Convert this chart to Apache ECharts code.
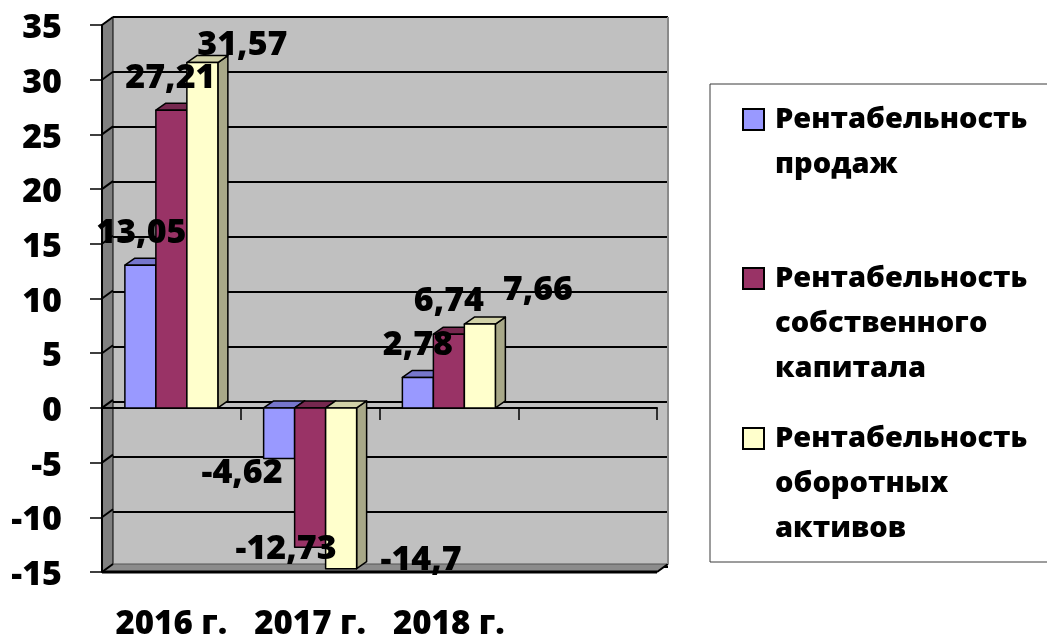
<!DOCTYPE html>
<html>
<head>
<meta charset="utf-8">
<script src="https://cdn.jsdelivr.net/npm/echarts@6.0.0/dist/echarts.min.js"></script>
<style>
html,body{margin:0;padding:0;background:#fff;}
#chart{width:1047px;height:641px;}
</style>
</head>
<body>
<div id="chart"></div>
<script>
// ---- data ----
const categories = ['2016 г.', '2017 г.', '2018 г.', ''];
const seriesNames = [
  'Рентабельность продаж',
  'Рентабельность собственного капитала',
  'Рентабельность оборотных активов'
];
const legendLabels = [
  'Рентабельность\nпродаж',
  'Рентабельность\nсобственного\nкапитала',
  'Рентабельность\nоборотных\nактивов'
];
const salesReturn = [13.05, -4.62, 2.78, null];
const equityReturn = [27.21, -12.73, 6.74, null];
const currentAssetsReturn = [31.57, -14.7, 7.66, null];
const yTicks = [-15, -10, -5, 0, 5, 10, 15, 20, 25, 30, 35];

// ---- styling / layout ----
const FONT = 'Open Sans';
const WEIGHT = 800;
const palette = [
  { front: '#9999ff', top: '#7676cc', side: '#6b6bb3' },
  { front: '#993366', top: '#76284f', side: '#6b2447' },
  { front: '#ffffcc', top: '#d2d2a8', side: '#a8a888' }
];
const BAR_FRAC = 0.2234;      // bar width as share of category band
const BAR_DEPTH = [10, -7];   // 3D depth of the bars
const WALL_DEPTH = [11, -8];  // 3D depth of the walls
// label placement relative to the bar end (Excel-like placement)
const labelShift = [
  [[1, -32], [-37, 15], [0, -32]],
  [[-1, -32], [-24, 2], [0, -33]],
  [[40, -17], [80, -8], [58, -34]]
];

const allValues = [salesReturn, equityReturn, currentAssetsReturn];
const yMin = yTicks[0], yMax = yTicks[yTicks.length - 1], yStep = yTicks[1] - yTicks[0];

function fmt(v) { return String(v).replace('.', ','); }

function barRenderer(si) {
  return function (params, api) {
    const cat = api.value(0), v = api.value(1);
    if (v == null || isNaN(v)) return;
    const band = api.size([1, 0])[0];
    const w = band * BAR_FRAC;
    const pv = api.coord([cat, v]);
    const p0 = api.coord([cat, 0]);
    const x = pv[0] - 1.5 * w + si * w;
    const yTop = Math.min(pv[1], p0[1]), yBot = Math.max(pv[1], p0[1]);
    const dx = BAR_DEPTH[0], dy = BAR_DEPTH[1];
    const col = palette[si];
    const st = { stroke: '#000', lineWidth: 1.5, lineJoin: 'round' };
    return {
      type: 'group',
      children: [
        { type: 'polygon', shape: { points: [[x + w, yTop], [x + w + dx, yTop + dy], [x + w + dx, yBot + dy], [x + w, yBot]] },
          style: Object.assign({ fill: col.side }, st) },
        { type: 'polygon', shape: { points: [[x, yTop], [x + w, yTop], [x + w + dx, yTop + dy], [x + dx, yTop + dy]] },
          style: Object.assign({ fill: col.top }, st) },
        { type: 'rect', shape: { x: x, y: yTop, width: w, height: yBot - yTop },
          style: Object.assign({ fill: col.front }, st) }
      ]
    };
  };
}

function labelRenderer(si) {
  return function (params, api) {
    const cat = api.value(0), v = api.value(1);
    if (v == null || isNaN(v)) return;
    const band = api.size([1, 0])[0];
    const w = band * BAR_FRAC;
    const pv = api.coord([cat, v]);
    const cx = pv[0] - 1.5 * w + si * w + w / 2;
    const sh = labelShift[si][cat];
    return {
      type: 'text',
      style: {
        text: fmt(v), x: cx + sh[0], y: pv[1] + sh[1],
        align: 'center', verticalAlign: 'middle',
        fontSize: 34, fontWeight: WEIGHT, fontFamily: FONT, fill: '#000'
      }
    };
  };
}

function frameRenderer(params, api) {
  const cs = params.coordSys;
  const x0 = cs.x, x1 = cs.x + cs.width;
  const yT = cs.y, yB = cs.y + cs.height;
  const dx = WALL_DEPTH[0], dy = WALL_DEPTH[1];
  const children = [
    { type: 'polygon', shape: { points: [[x0, yT], [x0 + dx, yT + dy], [x0 + dx, yB + dy], [x0, yB]] },
      style: { fill: '#808080', stroke: '#000', lineWidth: 1 } },
    { type: 'polygon', shape: { points: [[x0, yB], [x1, yB], [x1 + dx, yB + dy], [x0 + dx, yB + dy]] },
      style: { fill: '#8c8c8c', stroke: '#555', lineWidth: 1 } },
    { type: 'line', shape: { x1: x0, y1: yB, x2: x1, y2: yB }, style: { stroke: '#000', lineWidth: 3 } },
    { type: 'line', shape: { x1: x1, y1: yB, x2: x1 + dx, y2: yB + dy }, style: { stroke: '#000', lineWidth: 2 } },
    { type: 'line', shape: { x1: x1 + dx, y1: yT + dy, x2: x1 + dx, y2: yB + dy }, style: { stroke: '#8a8a8a', lineWidth: 2 } }
  ];
  yTicks.forEach(function (t) {
    const y = api.coord([0, t])[1];
    children.push({ type: 'line', shape: { x1: x0, y1: y, x2: x0 + dx, y2: y + dy },
      style: { stroke: '#000', lineWidth: 2 } });
  });
  return { type: 'group', children: children };
}

const series = [
  { type: 'custom', name: 'frame', xAxisIndex: 0, yAxisIndex: 0, z: 1, silent: true,
    data: [[0, 0]], renderItem: frameRenderer, clip: false }
];
allValues.forEach(function (vals, si) {
  series.push({
    type: 'custom', name: seriesNames[si], xAxisIndex: 0, yAxisIndex: 0, z: 2 + si,
    data: vals.map(function (v, i) { return [i, v]; }),
    encode: { x: 0, y: 1 }, renderItem: barRenderer(si), clip: false
  });
});
allValues.forEach(function (vals, si) {
  series.push({
    type: 'custom', name: seriesNames[si] + ' labels', xAxisIndex: 0, yAxisIndex: 0, z: 10,
    data: vals.map(function (v, i) { return [i, v]; }),
    encode: { x: 0, y: 1 }, renderItem: labelRenderer(si), clip: false
  });
});

// legend built from graphic elements
const legendChildren = [
  { type: 'rect', shape: { x: 710, y: 84, width: 400, height: 478 },
    style: { fill: '#fff', stroke: '#3a3a3a', lineWidth: 1 } }
];
const legendTops = [109, 268, 428];
seriesNames.forEach(function (n, i) {
  legendChildren.push({ type: 'rect', shape: { x: 743, y: legendTops[i], width: 21, height: 21 },
    style: { fill: palette[i].front, stroke: '#000', lineWidth: 2 } });
  legendChildren.push({ type: 'text', x: 775, y: legendTops[i] - 12,
    style: { text: legendLabels[i], fontSize: 29, fontWeight: WEIGHT, fontFamily: FONT,
      lineHeight: 45, fill: '#000', verticalAlign: 'top', align: 'left' } });
});

const option = {
  animation: false,
  backgroundColor: '#fff',
  grid: [
    { left: 102, top: 25, width: 555, height: 550 },
    { left: 113, top: 17, width: 555, height: 550, show: true, backgroundColor: '#c0c0c0', borderWidth: 0 }
  ],
  xAxis: [
    { type: 'category', gridIndex: 0, data: categories, z: 1,
      axisLine: { show: true, onZero: true, lineStyle: { color: '#000', width: 2 } },
      axisTick: { show: true, length: 12, interval: 0, lineStyle: { color: '#000', width: 1.5 } },
      axisLabel: { show: false }, splitLine: { show: false } },
    { type: 'category', gridIndex: 0, data: categories, position: 'bottom',
      axisLine: { show: false, onZero: false }, axisTick: { show: false },
      axisLabel: { show: true, interval: 0, margin: 36, color: '#000', fontSize: 33, fontWeight: WEIGHT, fontFamily: FONT },
      splitLine: { show: false } },
    { type: 'category', gridIndex: 1, data: categories, show: false }
  ],
  yAxis: [
    { type: 'value', gridIndex: 0, min: yMin, max: yMax, interval: yStep, z: 5,
      axisLine: { show: true, lineStyle: { color: '#000', width: 2 } },
      axisTick: { show: true, length: 12, lineStyle: { color: '#000', width: 1.5 } },
      axisLabel: { show: true, margin: 40, color: '#000',
        formatter: function (v) { return '{n|' + v + '}'; },
        rich: { n: { fontSize: 34, fontWeight: WEIGHT, fontFamily: FONT, color: '#000', padding: [7, 0, 0, 0] } } },
      splitLine: { show: false } },
    { type: 'value', gridIndex: 1, min: yMin, max: yMax, interval: yStep,
      axisLine: { show: false }, axisTick: { show: false }, axisLabel: { show: false },
      splitLine: { show: true, lineStyle: { color: '#000', width: 2 } } }
  ],
  series: series,
  graphic: [{ type: 'group', children: legendChildren }]
};

const chart = echarts.init(document.getElementById('chart'), null, { renderer: 'canvas' });
chart.setOption(option);
</script>
</body>
</html>
